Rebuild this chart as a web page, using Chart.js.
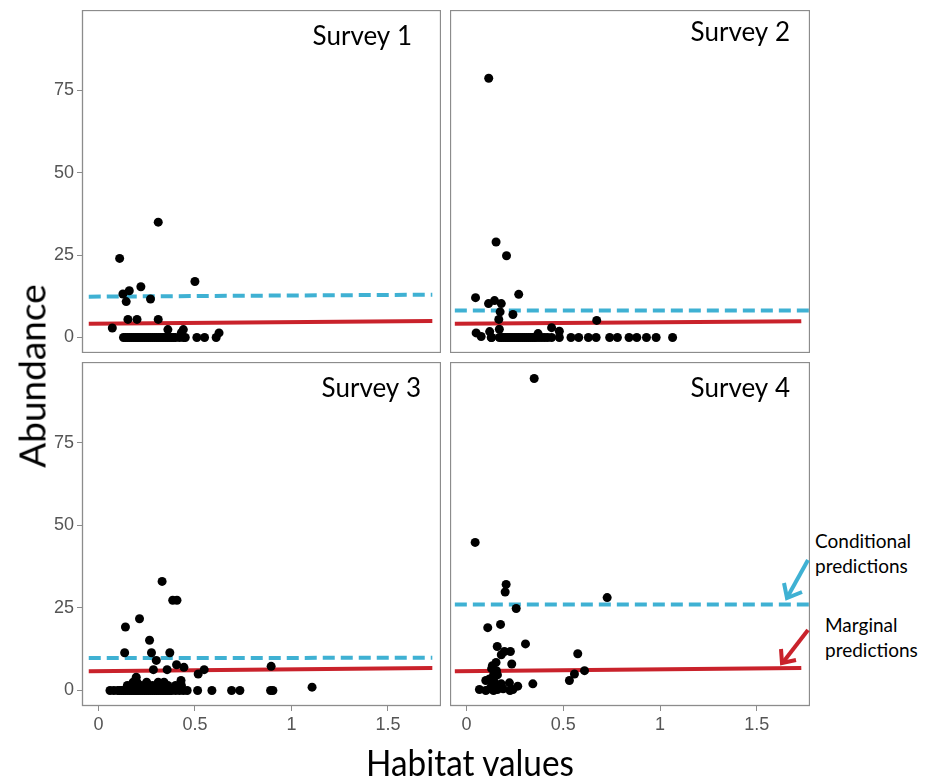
<!DOCTYPE html>
<html>
<head>
<meta charset="utf-8">
<script src="https://cdn.jsdelivr.net/npm/chart.js@4.4.1/dist/chart.umd.min.js"></script>
<style>
  body { margin: 0; background: #fff; }
  #wrap { position: relative; width: 928px; height: 780px; overflow: hidden; }
  canvas { position: absolute; }
  .txt { position: absolute; font-family: Lato, "Open Sans", sans-serif; color: #000; white-space: nowrap; }
</style>
</head>
<body>
<div id="wrap">
  <canvas id="c1" width="404" height="343" style="left:37px;top:10px"></canvas>
  <canvas id="c2" width="360" height="343" style="left:450px;top:10px"></canvas>
  <canvas id="c3" width="404" height="380" style="left:37px;top:362px"></canvas>
  <canvas id="c4" width="360" height="380" style="left:450px;top:362px"></canvas>

  <div class="txt" style="left:31px;top:376px;font-size:37px;transform:translate(-50%,-50%) rotate(-90deg)">Abundance</div>
  <div class="txt" style="left:470px;top:761px;font-size:37px;transform:translate(-50%,-50%) scaleX(0.9)">Habitat values</div>
  <div class="txt" style="left:815px;top:528px;font-size:19px;line-height:25px">Conditional<br>predictions</div>
  <div class="txt" style="left:825px;top:612px;font-size:19px;line-height:25px">Marginal<br>predictions</div>

  <svg width="928" height="780" style="position:absolute;left:0;top:0">
    <g fill="none" stroke-width="4">
      <line x1="808" y1="560" x2="788" y2="596" stroke="#3fb1d3"/>
      <polyline points="784,583 787,598 802,592" stroke="#3fb1d3"/>
      <line x1="808" y1="630" x2="784" y2="661" stroke="#c9222b"/>
      <polyline points="781,649 782,663 796,660" stroke="#c9222b"/>
    </g>
  </svg>
</div>

<script>
// --- dados ---
const xTicks = [0, 0.5, 1, 1.5];
const yTicks = [0, 25, 50, 75];
const surveys = ['Survey 1', 'Survey 2', 'Survey 3', 'Survey 4'];

// previsões (início e fim de cada reta)
const lineStartX = [-0.05, -0.06, -0.05, -0.06];
const condEndX = [1.73, 1.78, 1.73, 1.78];
const margEndX = [1.73, 1.73, 1.73, 1.73];
const condStart = [12.4, 8.2, 9.8, 26.0];
const condEnd = [13.0, 8.2, 9.9, 26.0];
const margStart = [4.2, 4.2, 5.8, 5.8];
const margEnd = [5.0, 4.9, 6.8, 6.8];

// Survey 1
const s1x = [0.31, 0.11, 0.50, 0.22, 0.16, 0.127, 0.144, 0.27, 0.153, 0.20, 0.31, 0.072,
  0.13, 0.14, 0.15, 0.16, 0.17, 0.18, 0.19, 0.20, 0.21, 0.22, 0.23, 0.24, 0.25, 0.26, 0.27,
  0.28, 0.29, 0.30, 0.31, 0.32, 0.33, 0.34, 0.35, 0.36, 0.37, 0.38, 0.39, 0.40, 0.42, 0.44,
  0.45, 0.51, 0.55, 0.61, 0.36, 0.44, 0.43, 0.625];
const s1y = [35, 24, 17, 15.4, 14.2, 13.2, 10.9, 11.7, 5.5, 5.5, 5.5, 2.9,
  0, 0, 0, 0, 0, 0, 0, 0, 0, 0, 0, 0, 0, 0, 0,
  0, 0, 0, 0, 0, 0, 0, 0, 0, 0, 0, 0, 0, 0, 0,
  0, 0, 0, 0, 2.4, 2.4, 1.5, 1.4];

// Survey 2
const s2x = [0.115, 0.153, 0.207, 0.27, 0.047, 0.114, 0.145, 0.18, 0.174, 0.24, 0.167, 0.673,
  0.05, 0.076, 0.12, 0.13, 0.128,
  0.17, 0.18, 0.19, 0.20, 0.21, 0.22, 0.23, 0.24, 0.25, 0.26, 0.27, 0.28, 0.29, 0.30, 0.31,
  0.32, 0.33, 0.34, 0.35, 0.36, 0.375, 0.39, 0.405, 0.42, 0.44, 0.48,
  0.17, 0.44, 0.48, 0.37,
  0.54, 0.58, 0.63, 0.67, 0.74, 0.78, 0.84, 0.88, 0.93, 0.98, 1.065];
const s2y = [78.7, 29, 24.8, 13.1, 12.1, 10.3, 11.2, 10.3, 7.8, 7, 5.5, 5.2,
  1.4, 0.3, 1.8, 0, 0,
  0, 0, 0, 0, 0, 0, 0, 0, 0, 0, 0, 0, 0, 0, 0,
  0, 0, 0, 0, 0, 0, 0, 0, 0, 0, 0,
  2.5, 3, 1.9, 1.2,
  0, 0, 0, 0, 0, 0, 0, 0, 0, 0, 0];

// Survey 3
const s3x = [0.33, 0.385, 0.407, 0.213, 0.14, 0.265, 0.136, 0.275, 0.37, 0.30, 0.405, 0.443,
  0.517, 0.548, 0.285, 0.356, 0.196, 0.428, 0.895, 1.107,
  0.06, 0.08, 0.10, 0.11, 0.12, 0.13, 0.14, 0.15, 0.16, 0.17, 0.18, 0.19, 0.20, 0.21, 0.22,
  0.23, 0.24, 0.25, 0.26, 0.27, 0.28, 0.29, 0.30, 0.31, 0.32, 0.33, 0.34, 0.35, 0.36, 0.37,
  0.38, 0.40, 0.42, 0.44, 0.46,
  0.15, 0.17, 0.19, 0.21, 0.22, 0.24, 0.26, 0.28, 0.30, 0.33, 0.36, 0.40, 0.43,
  0.18, 0.20, 0.25, 0.31, 0.34,
  0.514, 0.588, 0.69, 0.733, 0.892, 0.904];
const s3y = [33, 27.3, 27.3, 21.7, 19.2, 15.2, 11.4, 11.4, 11.4, 9.1, 7.8, 7,
  5, 6.3, 6.3, 6.3, 4, 3, 7.3, 1,
  0, 0, 0, 0, 0, 0, 0, 0, 0, 0, 0, 0, 0, 0, 0,
  0, 0, 0, 0, 0, 0, 0, 0, 0, 0, 0, 0, 0, 0, 0,
  0, 0, 0, 0, 0,
  1.5, 1.5, 1.5, 1.5, 1.5, 1.5, 1.5, 1.5, 1.5, 1.5, 1.5, 1.5, 1.5,
  2.5, 2.5, 2.5, 2.5, 2.5,
  0, 0, 0, 0, 0, 0];

// Survey 4
const s4x = [0.35, 0.045, 0.205, 0.20, 0.727, 0.257, 0.11, 0.176, 0.305, 0.159, 0.196, 0.227,
  0.575, 0.18, 0.153, 0.134, 0.234, 0.13, 0.558, 0.61, 0.14, 0.16, 0.10, 0.119, 0.532,
  0.222, 0.265, 0.343, 0.067, 0.10, 0.12, 0.13, 0.14, 0.15, 0.16, 0.17, 0.18, 0.19, 0.225,
  0.24, 0.145, 0.155, 0.145, 0.119];
const s4y = [94.4, 44.8, 32.1, 29.8, 28.1, 24.8, 19, 20, 14.1, 13.3, 11.8, 11.8,
  11.1, 10.8, 8.5, 7.5, 8, 6.6, 5, 6, 4.7, 4.7, 3, 3, 3,
  2.3, 1.3, 2, 0.3, 0, 0.5, 1, 0, 1.5, 0.3, 1, 2, 0.5, 0,
  0.3, 2.5, 6, 5.5, 3.5];

const allX = [s1x, s2x, s3x, s4x];
const allY = [s1y, s2y, s3y, s4y];

// --- estilo ---
const blue = '#3fb1d3';
const red = '#c9222b';
const frame = '#8c8c8c';
const tickFont = { family: '"Liberation Sans Narrow", "Liberation Sans", Arial, sans-serif', size: 18 };
const labelPos = [
  { right: 29, base: 35 },
  { right: 20, base: 31 },
  { right: 20, base: 35 },
  { right: 20, base: 35 }
];

// moldura do painel + título "Survey n"
const panelBox = {
  id: 'panelBox',
  afterDraw(chart, args, opts) {
    const { ctx, chartArea: a } = chart;
    ctx.save();
    ctx.strokeStyle = frame;
    ctx.lineWidth = 1.3;
    ctx.strokeRect(a.left + 0.5, a.top + 0.5, a.right - a.left - 1, a.bottom - a.top - 1);
    ctx.fillStyle = '#000';
    ctx.font = '26px Lato, "Open Sans", sans-serif';
    ctx.textAlign = 'right';
    ctx.textBaseline = 'alphabetic';
    ctx.fillText(opts.label, a.right - opts.right, a.top + opts.base);
    ctx.restore();
  }
};

function makePanel(i, showX, showY) {
  const pts = allX[i].map((x, k) => ({ x: x, y: allY[i][k] }));
  new Chart(document.getElementById('c' + (i + 1)), {
    type: 'scatter',
    data: {
      datasets: [
        { data: pts, pointRadius: 4.5, pointHoverRadius: 4.5, backgroundColor: '#000', borderWidth: 0, order: 0 },
        {
          data: [{ x: lineStartX[i], y: condStart[i] }, { x: condEndX[i], y: condEnd[i] }],
          showLine: true, pointRadius: 0, borderColor: blue, borderWidth: 4, borderDash: [12, 6], order: 1
        },
        {
          data: [{ x: lineStartX[i], y: margStart[i] }, { x: margEndX[i], y: margEnd[i] }],
          showLine: true, pointRadius: 0, borderColor: red, borderWidth: 4, order: 2
        }
      ]
    },
    options: {
      responsive: false,
      animation: false,
      layout: { padding: 0, autoPadding: false },
      plugins: {
        legend: { display: false },
        tooltip: { enabled: false },
        panelBox: Object.assign({ label: surveys[i] }, labelPos[i])
      },
      scales: {
        x: {
          type: 'linear', min: -0.085, max: 1.775, display: showX,
          afterBuildTicks: s => { s.ticks = xTicks.map(v => ({ value: v })); },
          ticks: { callback: v => String(v), color: '#555', font: tickFont, padding: 3, maxRotation: 0, autoSkip: false },
          grid: { drawOnChartArea: false, tickLength: 5, color: frame },
          border: { display: false },
          afterFit: s => { if (showX) { s.height = 36; s.paddingLeft = 0; s.paddingRight = 0; } }
        },
        y: {
          type: 'linear', min: -4.7, max: 99.4, display: showY,
          afterBuildTicks: s => { s.ticks = yTicks.map(v => ({ value: v })); },
          ticks: { color: '#555', font: tickFont, padding: 3 },
          grid: { drawOnChartArea: false, tickLength: 5, color: frame },
          border: { display: false },
          afterFit: s => { if (showY) { s.width = 45; s.paddingTop = 0; s.paddingBottom = 0; } }
        }
      }
    },
    plugins: [panelBox]
  });
}

makePanel(0, false, true);
makePanel(1, false, false);
makePanel(2, true, true);
makePanel(3, true, false);
</script>
</body>
</html>
